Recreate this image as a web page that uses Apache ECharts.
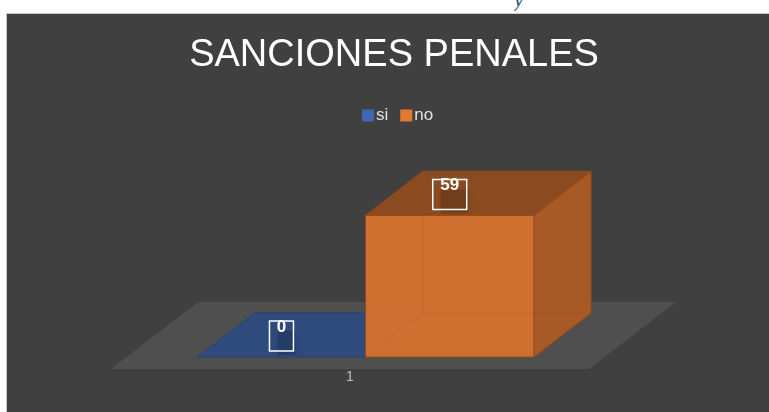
<!DOCTYPE html>
<html>
<head>
<meta charset="utf-8">
<script src="https://cdn.jsdelivr.net/npm/echarts@6/dist/echarts.min.js"></script>
<style>
  html, body { margin: 0; padding: 0; background: #fff; }
  #page { position: relative; width: 769px; height: 412px; overflow: hidden; }
  #cut { position: absolute; left: 514px; top: 0; height: 13px; overflow: hidden; }
  #cut span { display: block; margin-top: -14px; font: italic 22px "Liberation Serif", serif; color: #2f4a7c; }
  #chart_main { position: absolute; left: 6px; top: 13px; width: 763px; height: 399px;
    background: #404040; border-top: 1px solid #c9c9c9; border-left: 1px solid #c9c9c9; box-sizing: border-box; }
</style>
</head>
<body>
<div id="page">
  <div id="cut"><span>y</span></div>
  <div id="chart_main"></div>
</div>
<script type="text/javascript">
// data
var categories = ['1'];
var seriesNames = ['si', 'no'];
var siValues = [0];
var noValues = [59];

var chartTitle = 'SANCIONES PENALES';

// 3d look: x shift per pixel of depth, floor and bar depth
var K = 1.3;
var FLOOR_DEPTH = 67;
var BAR_FRONT = 12;
var BAR_BACK = 56;
var BAR_W = 0.352; // share of band

var faceColors = [
  { front: '#35558f', top: '#2f4a7c', side: '#27406c', edge: '#2a4272', legend: '#3f66b0' },
  { front: '#d4722f', top: '#8b4b21', side: '#a75a25', edge: '#9a4a18', legend: '#e07a2e' }
];

function pt(x, y, d) { return [x + d * K, y - d]; }

function renderFloor(params, api) {
  var base = api.coord([api.value(0), 0]);
  var band = api.size([1, 0])[0];
  var l = base[0] - band / 2, r = base[0] + band / 2, y = base[1];
  return {
    type: 'polygon',
    shape: { points: [pt(l, y, 0), pt(r, y, 0), pt(r, y, FLOOR_DEPTH), pt(l, y, FLOOR_DEPTH)] },
    style: { fill: '#4f4f4f' },
    silent: true
  };
}

function renderBox(params, api) {
  var s = params.seriesIndex - 1;
  var col = faceColors[s];
  var cat = api.value(0), v = api.value(1);
  var base = api.coord([cat, 0]);
  var top = api.coord([cat, v]);
  var band = api.size([1, 0])[0];
  var w = band * BAR_W;
  var x0 = base[0] + (s === 0 ? -w : 0), x1 = x0 + w;
  var yb = base[1], yt = top[1];
  var kids = [];
  var f = BAR_FRONT, b = BAR_BACK;
  var tall = yb - yt > 0.5;
  if (tall) {
    kids.push({ type: 'polygon', shape: { points: [pt(x1, yb, f), pt(x1, yb, b), pt(x1, yt, b), pt(x1, yt, f)] },
      style: { fill: col.side, stroke: col.edge, lineWidth: 1 } });
  }
  kids.push({ type: 'polygon', shape: { points: [pt(x0, yt, f), pt(x1, yt, f), pt(x1, yt, b), pt(x0, yt, b)] },
    style: { fill: col.top, stroke: col.edge, lineWidth: 1 } });
  if (tall) {
    kids.push({ type: 'polygon', shape: { points: [pt(x0, yb, f), pt(x1, yb, f), pt(x1, yt, f), pt(x0, yt, f)] },
      style: { fill: col.front, stroke: col.edge, lineWidth: 1, opacity: 0.97 } });
    // hidden edges seen through
    kids.push({ type: 'polyline', shape: { points: [pt(x0, yt, b), pt(x0, yb, b), pt(x1, yb, b)] },
      style: { stroke: 'rgba(150,70,20,0.16)', lineWidth: 1, fill: null } });
    kids.push({ type: 'line', shape: { x1: pt(x0, yb, b)[0], y1: pt(x0, yb, b)[1], x2: pt(x0, yb, f)[0], y2: pt(x0, yb, f)[1] },
      style: { stroke: 'rgba(150,70,20,0.16)', lineWidth: 1 } });
  }
  // data label
  var cx = (x0 + x1) / 2 + f * K;
  var cy = yt - f - 21;
  var label = String(v);
  var bw = label.length > 1 ? 34 : 24, bh = 30;
  kids.push({ type: 'rect', shape: { x: cx - bw / 2 + 8, y: cy - bh / 2 + 10, width: bw - 6, height: bh - 6 },
    style: { fill: 'rgba(0,0,0,0.14)', shadowBlur: 8, shadowColor: 'rgba(0,0,0,0.35)' }, silent: true });
  kids.push({ type: 'rect', shape: { x: cx - bw / 2, y: cy - bh / 2, width: bw, height: bh },
    style: { fill: null, stroke: '#ffffff', lineWidth: 1.5 } });
  kids.push({ type: 'text', x: cx, y: cy - bh / 2 + 6,
    style: { text: label, fill: '#ffffff', font: 'bold 17px "Liberation Sans", Arial, sans-serif', align: 'center', verticalAlign: 'middle' } });
  return { type: 'group', children: kids };
}

var myChart = echarts.init(document.getElementById('chart_main'));
var option = {
  animation: false,
  title: {
    text: chartTitle, left: 382, top: 18, textAlign: 'center',
    textStyle: { color: '#ffffff', fontSize: 38, fontWeight: 'normal', fontFamily: '"Liberation Sans", Arial, sans-serif' }
  },
  legend: {
    data: seriesNames, top: 88, left: 350, itemWidth: 12, itemHeight: 12, itemGap: 12,
    icon: 'rect',
    textStyle: { color: '#e0e0e0', fontSize: 17, fontFamily: '"Liberation Sans", Arial, sans-serif', padding: [0, 0, 4, -3] }
  },
  grid: { left: 104, right: 180, top: 187, bottom: 43 },
  xAxis: {
    type: 'category', data: categories,
    axisLine: { show: false }, axisTick: { show: false }, splitLine: { show: false },
    axisLabel: { color: '#bfbfbf', fontSize: 14, margin: 1, fontFamily: '"Liberation Sans", Arial, sans-serif' }
  },
  yAxis: { type: 'value', min: 0, max: 70, show: false, splitLine: { show: false } },
  series: [
    { name: 'floor', type: 'custom', renderItem: renderFloor, data: [[0, 0]], z: 1, silent: true },
    { name: seriesNames[0], type: 'custom', renderItem: renderBox, itemStyle: { color: faceColors[0].legend, borderColor: '#2a4272' },
      data: siValues.map(function (v, i) { return [i, v]; }), z: 2 },
    { name: seriesNames[1], type: 'custom', renderItem: renderBox, itemStyle: { color: faceColors[1].legend, borderColor: '#9a4a18' },
      data: noValues.map(function (v, i) { return [i, v]; }), z: 3 }
  ]
};
myChart.setOption(option);
</script>
</body>
</html>
